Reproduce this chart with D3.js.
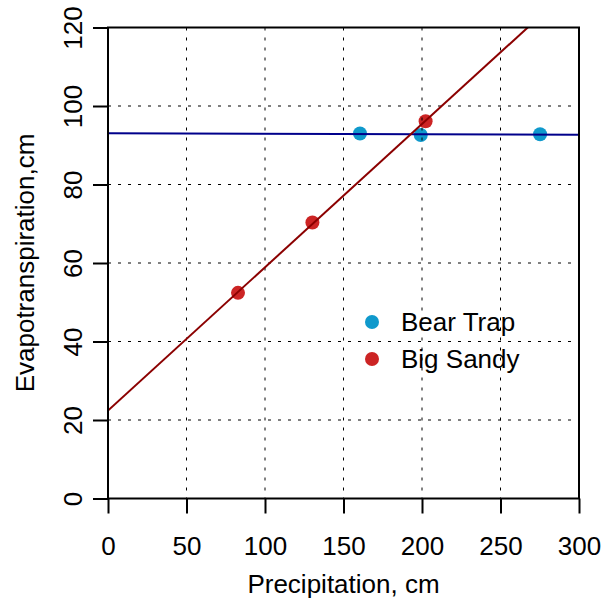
<!DOCTYPE html>
<html>
<head>
<meta charset="utf-8">
<script src="https://cdn.jsdelivr.net/npm/d3@7"></script>
<style>
  html, body { margin: 0; padding: 0; background: #fff; }
  svg text { font-family: "Liberation Sans", Arial, sans-serif; fill: #000; }
</style>
</head>
<body>
<svg id="chart" width="606" height="609"></svg>
<script>
// Site observations: precipitation vs evapotranspiration (cm)
const seriesNames = ["Bear Trap", "Big Sandy"];
const seriesColors = ["#0f99cc", "#cc2424"];
const lineColors = ["#00008b", "#8b0000"];
const bearTrapPrecip = [160.5, 199.2, 275.2];
const bearTrapET = [93.0, 92.6, 92.8];
const bigSandyPrecip = [82.8, 130.2, 202.3];
const bigSandyET = [52.4, 70.3, 96.1];
const xTicks = [0, 50, 100, 150, 200, 250, 300];
const yTicks = [0, 20, 40, 60, 80, 100, 120];
const xTitle = "Precipitation, cm";
const yTitle = "Evapotranspiration,cm";

const series = [
  { name: seriesNames[0], x: bearTrapPrecip, y: bearTrapET, fill: seriesColors[0], line: lineColors[0] },
  { name: seriesNames[1], x: bigSandyPrecip, y: bigSandyET, fill: seriesColors[1], line: lineColors[1] }
];

// ordinary least squares fit
function linFit(xs, ys) {
  const mx = d3.mean(xs), my = d3.mean(ys);
  let sxy = 0, sxx = 0;
  xs.forEach((v, i) => { sxy += (v - mx) * (ys[i] - my); sxx += (v - mx) ** 2; });
  const b = sxy / sxx;
  return { a: my - b * mx, b };
}

const svg = d3.select("#chart");
const plotL = 108, plotR = 579, plotT = 27.5, plotB = 498.5;
const x = d3.scaleLinear().domain([0, 300]).range([plotL, plotR]);
const y = d3.scaleLinear().domain([0, 120]).range([plotB, plotT]);

svg.append("defs").append("clipPath").attr("id", "plotclip")
  .append("rect").attr("x", plotL).attr("y", plotT)
  .attr("width", plotR - plotL).attr("height", plotB - plotT);

// points
series.forEach(s => {
  svg.append("g").selectAll("circle").data(s.x.map((v, i) => [v, s.y[i]]))
    .join("circle")
    .attr("cx", d => x(d[0])).attr("cy", d => y(d[1]))
    .attr("r", 7).attr("fill", s.fill);
});

// legend
const leg = svg.append("g");
series.forEach((s, i) => {
  const cy = 322 + i * 37;
  leg.append("circle").attr("cx", 372).attr("cy", cy).attr("r", 7).attr("fill", s.fill);
  leg.append("text").attr("x", 401).attr("y", cy + 9).attr("font-size", 26).text(s.name);
});

// dotted grid
const grid = svg.append("g").attr("stroke", "#000").attr("stroke-width", 1)
  .attr("stroke-dasharray", "3,7");
grid.selectAll("line.v").data(xTicks.slice(1, -1)).join("line")
  .attr("x1", d => x(d)).attr("x2", d => x(d)).attr("y1", plotT).attr("y2", plotB);
grid.selectAll("line.h").data(yTicks.slice(1, -1)).join("line")
  .attr("y1", d => y(d)).attr("y2", d => y(d)).attr("x1", plotL).attr("x2", plotR);

// fitted lines
const lines = svg.append("g").attr("clip-path", "url(#plotclip)");
series.forEach(s => {
  const f = linFit(s.x, s.y);
  const line = d3.line().x(d => x(d)).y(d => y(f.a + f.b * d));
  lines.append("path").datum([0, 300]).attr("d", line)
    .attr("fill", "none").attr("stroke", s.line).attr("stroke-width", 2);
});

// frame
svg.append("rect").attr("x", plotL).attr("y", plotT)
  .attr("width", plotR - plotL).attr("height", plotB - plotT)
  .attr("fill", "none").attr("stroke", "#000").attr("stroke-width", 2);

// axes
const xAxis = svg.append("g").attr("transform", `translate(0,${plotB})`)
  .call(d3.axisBottom(x).tickValues(xTicks).tickSize(15).tickSizeOuter(0));
xAxis.select(".domain").remove();
xAxis.selectAll("line").attr("stroke-width", 2);
xAxis.selectAll("text").attr("font-size", 26).attr("font-family", "Liberation Sans, Arial, sans-serif")
  .attr("dy", null).attr("y", 56).attr("fill", "#000");

const yAxis = svg.append("g").attr("transform", `translate(${plotL},0)`)
  .call(d3.axisLeft(y).tickValues(yTicks).tickSize(15).tickSizeOuter(0));
yAxis.select(".domain").remove();
yAxis.selectAll("line").attr("stroke-width", 2);
yAxis.selectAll("text").attr("font-size", 26).attr("font-family", "Liberation Sans, Arial, sans-serif")
  .attr("x", null).attr("dy", null).attr("text-anchor", "middle")
  .attr("transform", "translate(-26,0) rotate(-90)").attr("fill", "#000");

// titles
svg.append("text").attr("x", (plotL + plotR) / 2).attr("y", 593)
  .attr("text-anchor", "middle").attr("font-size", 26).text(xTitle);
svg.append("text").attr("transform", `translate(34,${(plotT + plotB) / 2}) rotate(-90)`)
  .attr("text-anchor", "middle").attr("font-size", 26).text(yTitle);
</script>
</body>
</html>
